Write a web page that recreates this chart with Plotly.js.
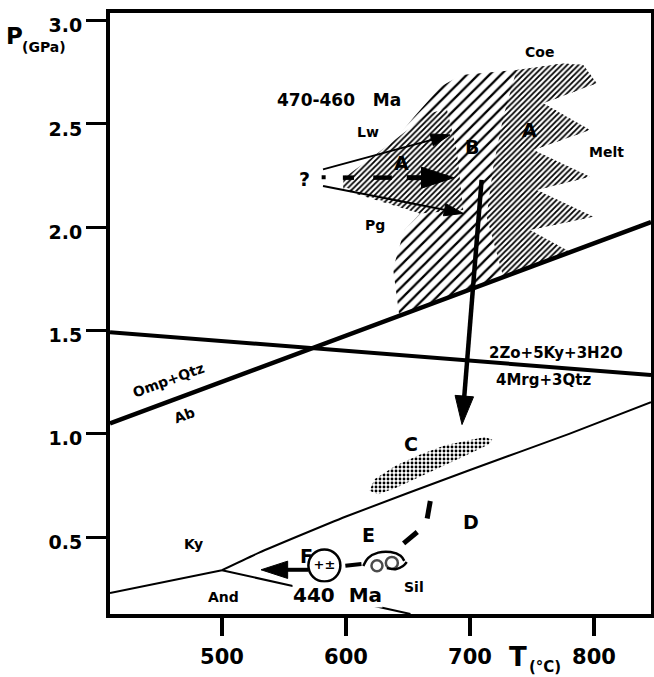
<!DOCTYPE html>
<html><head><meta charset="utf-8">
<script src="https://cdn.plot.ly/plotly-3.0.1.min.js"></script>
<style>html,body{margin:0;padding:0;background:#fff}#chart{width:654px;height:677px}</style>
</head><body><div id="chart"></div>
<script>
// ---- axes ----
const tTicks = [500, 600, 700, 800];
const tTickText = ['500', '600', '700', '800'];
const pTicks = [0.5, 1.0, 1.5, 2.0, 2.5, 3.0];
const pTickText = ['0.5', '1.0', '1.5', '2.0', '2.5', '3.0'];
const tRange = [409.7, 846];
const pRange = [0.128, 3.037];

// ---- reaction curves (T in °C, P in GPa) ----
const ompT = [409.7, 846];
const ompP = [1.05, 2.025];
const zoT = [409.7, 846];
const zoP = [1.492, 1.285];
const kySilT = [500, 530, 600, 700, 780, 846];
const kySilP = [0.34, 0.425, 0.60, 0.825, 1.0, 1.153];
const kyAndT = [409.7, 500];
const kyAndP = [0.23, 0.34];
const andSilT = [500, 558, 622, 652];
const andSilP = [0.34, 0.262, 0.168, 0.128];

// ---- hatched fields ----
const sparseT = [643, 638, 647, 659.7, 597.9, 597.9, 632.8, 655.0, 676.5, 693.0, 737.6, 775.3, 791.4, 802.1, 759.1, 796.8, 751.1, 796.8, 753.8, 799.5, 748.4, 780.7];
const sparseP = [1.572, 1.80, 1.985, 2.067, 2.18, 2.245, 2.374, 2.535, 2.681, 2.737, 2.761, 2.793, 2.785, 2.697, 2.60, 2.471, 2.374, 2.245, 2.18, 2.051, 1.987, 1.88];
const denseRT = [737.6, 775.3, 791.4, 802.1, 759.1, 796.8, 751.1, 796.8, 753.8, 799.5, 748.4, 780.7, 726.9, 713.4, 718.8, 726.9];
const denseRP = [2.761, 2.793, 2.785, 2.697, 2.60, 2.471, 2.374, 2.245, 2.18, 2.051, 1.987, 1.88, 1.759, 2.051, 2.293, 2.535];
const denseLT = [597.9, 622.0, 646.2, 667.7, 681.2, 689.3, 694.6, 659.7, 619.4, 597.9];
const denseLP = [2.237, 2.342, 2.455, 2.551, 2.576, 2.374, 2.084, 2.067, 2.148, 2.197];

// ---- stippled field C ----
const cT = [619, 623, 640, 660, 680, 700, 712, 718, 715, 700, 680, 660, 640, 626, 619];
const cP = [0.725, 0.78, 0.845, 0.90, 0.945, 0.972, 0.985, 0.972, 0.948, 0.905, 0.85, 0.795, 0.738, 0.708, 0.725];

// ---- P-T path arrows ----
const lwArrowT = [581.5, 683.9];
const lwArrowP = [2.28, 2.447];
const pgArrowT = [581.5, 694.6];
const pgArrowP = [2.20, 2.067];
const startDotT = [582];
const startDotP = [2.242];
const dashT = [597.5, 606.5, null, 622, 637];
const dashP = [2.24, 2.24, null, 2.24, 2.24];
const dashArrowT = [649, 687];
const dashArrowP = [2.24, 2.24];
const bigArrowT = [709.4, 693.6];
const bigArrowP = [2.229, 1.045];
const retroT = [668, 665.5, null, 657.5, 646.5];
const retroP = [0.675, 0.59, null, 0.525, 0.47];
const eToFT = [612.5, 599.5];
const eToFP = [0.37, 0.362];
const fArrowT = [569.5, 531.5];
const fArrowP = [0.342, 0.342];

// ---- symbols E and F ----
const eArcT = [614, 618, 626, 636, 644, 647];
const eArcP = [0.36, 0.40, 0.425, 0.428, 0.41, 0.385];
const eLoopT = [625, 637];
const eLoopP = [0.362, 0.375];
const eWaveT = [633, 640, 646, 649];
const eWaveP = [0.35, 0.345, 0.36, 0.38];
const fCircleT = [582.6];
const fCircleP = [0.363];

// ---- labels ----
const bigLabels = ['A', 'B', 'A', '?', 'C', 'D', 'E', 'F'];
const bigLabelT = [644.9, 701.4, 748.4, 566.3, 652.6, 700.8, 618.2, 568];
const bigLabelP = [2.31, 2.387, 2.471, 2.232, 0.95, 0.575, 0.509, 0.41];
const smallLabels = ['Coe', 'Lw', 'Melt', 'Pg', '2Zo+5Ky+3H2O', '4Mrg+3Qtz', 'Ky', 'And', 'Sil'];
const smallLabelT = [756, 618, 810.2, 623.4, 769.2, 759.3, 477, 501, 655];
const smallLabelP = [2.85, 2.463, 2.366, 2.011, 1.39, 1.26, 0.466, 0.21, 0.26];
const rotLabels = ['Omp+Qtz', 'Ab'];
const rotLabelT = [457.2, 470];
const rotLabelP = [1.26, 1.089];
const ageLabels = ['470-460\u00a0\u00a0\u00a0Ma', '440\u00a0\u00a0Ma'];
const ageLabelT = [594, 593];
const ageLabelP = [2.616, 0.22];

const BLACK = 'rgb(0,0,0)';
const FAM = 'DejaVu Sans, sans-serif';
const bigFont = {family: FAM, size: 19, color: BLACK, weight: 'bold'};
const smallFont = {family: FAM, size: 14, color: BLACK, weight: 'bold'};

function line(x, y, w, extra) {
  return Object.assign({type: 'scatter', mode: 'lines', x: x, y: y, hoverinfo: 'skip',
    line: {color: BLACK, width: w}, connectgaps: false}, extra || {});
}
function arrow(x, y, w, headSize) {
  return {type: 'scatter', mode: 'lines+markers', x: x, y: y, hoverinfo: 'skip', opacity: 1,
    line: {color: BLACK, width: w, backoff: 'auto'},
    marker: {symbol: ['circle', 'arrow'], size: [0, headSize], color: BLACK, opacity: 1,
      angleref: 'previous', line: {width: 1, color: BLACK}}};
}
function patch(x, y, pattern) {
  return {type: 'scatter', mode: 'lines', x: x, y: y, fill: 'toself', hoverinfo: 'skip',
    line: {width: 0, color: 'rgba(0,0,0,0)'}, fillcolor: 'rgba(0,0,0,0)', fillpattern: pattern};
}

const traces = [
  patch(sparseT, sparseP, {shape: '/', size: 8, solidity: 0.28, fgcolor: BLACK, bgcolor: 'white'}),
  patch(denseRT, denseRP, {shape: '/', size: 4, solidity: 0.45, fgcolor: BLACK, bgcolor: 'white'}),
  patch(denseLT, denseLP, {shape: '/', size: 4, solidity: 0.45, fgcolor: BLACK, bgcolor: 'white'}),
  patch(cT, cP, {shape: '.', size: 4, solidity: 0.4, fgcolor: BLACK, bgcolor: 'white'}),
  line(ompT, ompP, 4.5),
  line(zoT, zoP, 4),
  line(kySilT, kySilP, 2, {line: {color: BLACK, width: 2, shape: 'spline', smoothing: 0.5}}),
  line(kyAndT, kyAndP, 2),
  line(andSilT, andSilP, 2),
  arrow(lwArrowT, lwArrowP, 2, 20),
  arrow(pgArrowT, pgArrowP, 2, 20),
  {type: 'scatter', mode: 'markers', x: startDotT, y: startDotP, hoverinfo: 'skip',
    marker: {symbol: 'square', size: 4, color: BLACK}},
  line(dashT, dashP, 4.5),
  arrow(dashArrowT, dashArrowP, 5, 34),
  arrow(bigArrowT, bigArrowP, 4.5, 30),
  line(retroT, retroP, 5),
  line(eToFT, eToFP, 4),
  arrow(fArrowT, fArrowP, 4, 28),
  line(eArcT, eArcP, 2.5, {line: {color: BLACK, width: 2.5, shape: 'spline'}}),
  line(eWaveT, eWaveP, 2.5, {line: {color: BLACK, width: 2.5, shape: 'spline'}}),
  {type: 'scatter', mode: 'markers', x: eLoopT, y: eLoopP, hoverinfo: 'skip',
    marker: {symbol: 'circle-open', size: [11, 12], color: BLACK, line: {width: 2.5, color: BLACK}}},
  {type: 'scatter', mode: 'markers+text', x: fCircleT, y: fCircleP, hoverinfo: 'skip',
    text: ['<b>+±</b>'], textposition: 'middle center',
    textfont: {family: FAM, size: 13, color: BLACK},
    marker: {symbol: 'circle-open', size: 32, color: BLACK, line: {width: 2.5, color: BLACK}}}
];

function ann(x, y, text, font, extra) {
  return Object.assign({x: x, y: y, xref: 'x', yref: 'y', text: '<b>' + text + '</b>', showarrow: false,
    xanchor: 'center', yanchor: 'middle', font: font}, extra || {});
}
const annotations = [];
bigLabels.forEach((t, i) => annotations.push(ann(bigLabelT[i], bigLabelP[i], t, bigFont)));
smallLabels.forEach((t, i) => annotations.push(ann(smallLabelT[i], smallLabelP[i], t,
  Object.assign({}, smallFont, {size: (t.length > 5 ? 15 : 14)}))));
rotLabels.forEach((t, i) => annotations.push(ann(rotLabelT[i], rotLabelP[i], t,
  Object.assign({}, smallFont, {size: 14}), {textangle: -20})));
ageLabels.forEach((t, i) => annotations.push(ann(ageLabelT[i], ageLabelP[i], t,
  Object.assign({}, bigFont, {size: (i === 0 ? 17 : 20)}),
  {bgcolor: (i === 1 ? 'white' : 'rgba(0,0,0,0)'), borderpad: 0})));
// axis titles
function pann(x, y, text, font) {
  return {x: x, y: y, xref: 'paper', yref: 'paper', text: '<b>' + text + '</b>', showarrow: false,
    xanchor: 'center', yanchor: 'middle', font: font};
}
annotations.push(pann(-0.176, 0.961, 'P', {family: FAM, size: 23, color: BLACK, weight: 'bold'}));
annotations.push(pann(-0.122, 0.9426, '(GPa)', {family: FAM, size: 14, color: BLACK, weight: 'bold'}));
annotations.push(pann(0.754, -0.071, 'T', {family: FAM, size: 26, color: BLACK, weight: 'bold'}));
annotations.push(pann(0.8035, -0.0877, '(°C)', {family: FAM, size: 15, color: BLACK, weight: 'bold'}));

const layout = {
  width: 654, height: 677,
  margin: {l: 110, r: 3, t: 13, b: 63},
  paper_bgcolor: 'white', plot_bgcolor: 'white',
  showlegend: false,
  xaxis: {range: tRange, showgrid: false, zeroline: false, showline: true, linewidth: 4, linecolor: BLACK,
    mirror: true, ticks: 'outside', ticklen: 18, tickwidth: 4, tickcolor: BLACK,
    tickvals: tTicks, ticktext: tTickText, ticklabelstandoff: 3,
    tickfont: {family: FAM, size: 21, color: BLACK, weight: 'bold'}},
  yaxis: {range: pRange, showgrid: false, zeroline: false, showline: true, linewidth: 4, linecolor: BLACK,
    mirror: true, ticks: 'outside', ticklen: 20, tickwidth: 3, tickcolor: BLACK,
    tickvals: pTicks, ticktext: pTickText, ticklabelshift: 5,
    tickfont: {family: FAM, size: 19, color: BLACK, weight: 'bold'}},
  annotations: annotations
};

Plotly.newPlot('chart', traces, layout, {displayModeBar: false, staticPlot: true});
</script></body></html>
